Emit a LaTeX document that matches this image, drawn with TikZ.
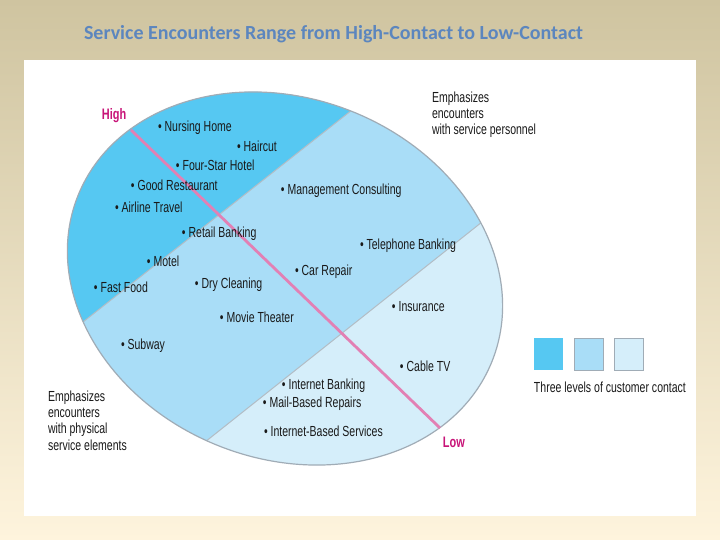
\documentclass[tikz,border=0pt]{standalone}
\usepackage{fontspec}
\setmainfont{Liberation Sans}
\newfontfamily\condfont[FakeStretch=0.72]{Liberation Sans}
\newfontfamily\titlefont{Carlito}
\usepackage{tikz}
\usetikzlibrary{positioning}

\definecolor{bgtop}{RGB}{207,196,160}
\definecolor{bgbot}{RGB}{254,244,221}
\definecolor{titleblue}{RGB}{92,134,190}
\definecolor{highc}{RGB}{86,200,242}
\definecolor{midc}{RGB}{169,221,247}
\definecolor{lowc}{RGB}{213,238,250}
\definecolor{pinkline}{RGB}{226,128,180}
\definecolor{magentatext}{RGB}{200,20,120}
\definecolor{edgegray}{RGB}{160,172,182}

\begin{document}
\begin{tikzpicture}[
  x=0.5pt, y=-0.5pt,
  every node/.style={inner sep=0pt, outer sep=0pt},
  item/.style={anchor=base west, font=\condfont\fontsize{7.3}{8.8}\selectfont, text=black!90},
  note/.style={anchor=north west, align=left, font=\condfont\fontsize{7.3}{8.1}\selectfont, text=black!90},
  endlabel/.style={anchor=base west, font=\condfont\bfseries\fontsize{7.6}{9}\selectfont, text=magentatext},
  swatch/.style={minimum width=14.5pt, minimum height=16pt},
  divider/.style={draw=edgegray!80, line width=0.5pt},
  oval/.style={shift={(285,278.5)}, rotate=-21.8},
]
\useasboundingbox (0,0) rectangle (720,540);

% Background and panel
\shade[top color=bgtop, bottom color=bgbot] (0,0) rectangle (720,540);
\fill[white] (24,60) rectangle (696,516);

% Title
\node[anchor=base west, font=\titlefont\bfseries\fontsize{10}{12}\selectfont, text=titleblue]
  (title) at (84,40) {Service Encounters Range from High-Contact to Low-Contact};

% Contact regions
\begin{scope}
  \clip[oval] (0,0) ellipse [x radius=223, y radius=180];
  \fill[lowc] (-100,-100) rectangle (800,700);
  \fill[midc] (759,2) -- (-72,662) -- (-300,662) -- (-300,-200) -- (759,-200) -- cycle;
  \fill[highc] (621,-102) -- (-186,534) -- (-300,534) -- (-300,-200) -- (621,-200) -- cycle;
  \draw[divider] (621,-102) -- (-186,534);
  \draw[divider] (759,2) -- (-72,662);
\end{scope}
\draw[edgegray, line width=0.6pt, oval] (0,0) ellipse [x radius=223, y radius=180];

% High-to-low axis
\coordinate (highend) at (131,130);
\coordinate (lowend) at (440,428);
\draw[pinkline, line width=1.4pt] (highend) -- (lowend);
\node[endlabel] (high) at (102,120) {High};
\node[endlabel] (low) at (443,448) {Low};

% Services
\node[item] (nursing) at (158,132) {\textbullet\ Nursing Home};
\node[item] (haircut) at (237,152) {\textbullet\ Haircut};
\node[item] (hotel) at (176,171) {\textbullet\ Four-Star Hotel};
\node[item] (restaurant) at (131,191) {\textbullet\ Good Restaurant};
\node[item] (consulting) at (281,195) {\textbullet\ Management Consulting};
\node[item] (airline) at (115,213) {\textbullet\ Airline Travel};
\node[item] (retail) at (182,238) {\textbullet\ Retail Banking};
\node[item] (telephone) at (360,250) {\textbullet\ Telephone Banking};
\node[item] (motel) at (147,267) {\textbullet\ Motel};
\node[item] (carrepair) at (295,276) {\textbullet\ Car Repair};
\node[item] (fastfood) at (94,293) {\textbullet\ Fast Food};
\node[item] (drycleaning) at (195,289) {\textbullet\ Dry Cleaning};
\node[item] (insurance) at (392,312) {\textbullet\ Insurance};
\node[item] (movie) at (220,323) {\textbullet\ Movie Theater};
\node[item] (subway) at (121,350) {\textbullet\ Subway};
\node[item] (cabletv) at (400,372) {\textbullet\ Cable TV};
\node[item] (netbanking) at (282,390) {\textbullet\ Internet Banking};
\node[item] (mailrepairs) at (263,408) {\textbullet\ Mail-Based Repairs};
\node[item] (netservices) at (264,437) {\textbullet\ Internet-Based Services};

% Side notes
\node[note] (personnel) at (432,92) {Emphasizes\\encounters\\with service personnel};
\node[note] (physical) at (48,391) {Emphasizes\\encounters\\with physical\\service elements};

% Legend
\node[swatch, fill=highc, anchor=north west] (swhigh) at (534,338) {};
\node[swatch, fill=midc, draw=edgegray, right=5.5pt of swhigh] (swmid) {};
\node[swatch, fill=lowc, draw=edgegray, right=5.5pt of swmid] (swlow) {};
\node[item] (legendtext) at (534,393) {Three levels of customer contact};

\end{tikzpicture}
\end{document}
